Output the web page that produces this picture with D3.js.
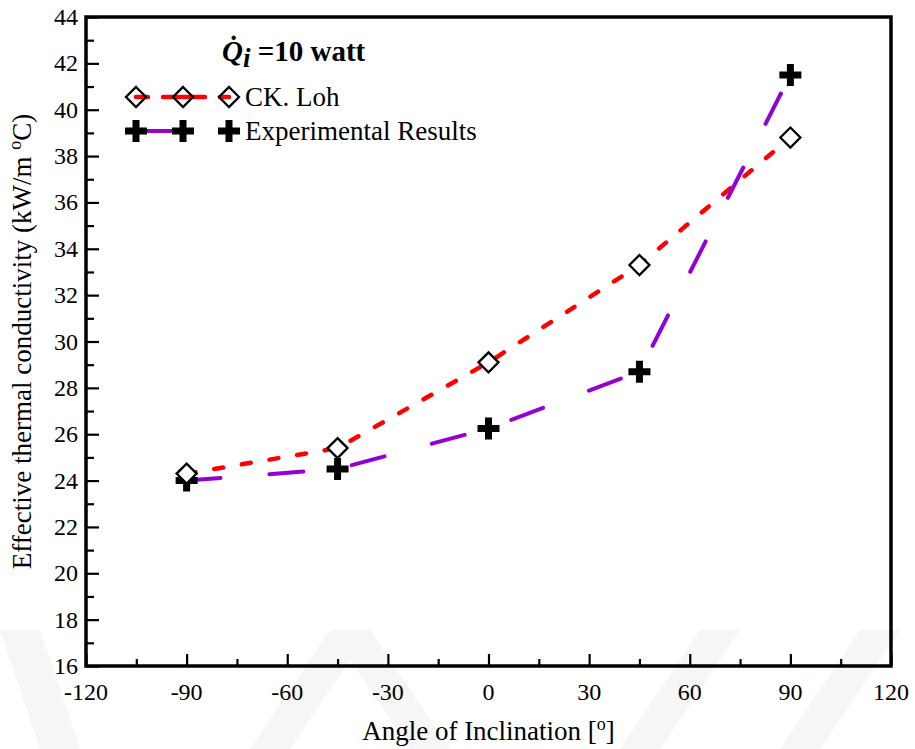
<!DOCTYPE html>
<html>
<head>
<meta charset="utf-8">
<script src="https://cdn.jsdelivr.net/npm/d3@7"></script>
<style>
  body { margin: 0; background: #fff; }
</style>
</head>
<body>
<div id="chart"></div>
<script>
var angles = [-90, -45, 0, 45, 90];
var lohValues = [24.3, 25.4, 29.1, 33.3, 38.8];
var expValues = [24.0, 24.5, 26.25, 28.7, 41.5];
var xTicks = [-120, -90, -60, -30, 0, 30, 60, 90, 120];
var yTicks = [16, 18, 20, 22, 24, 26, 28, 30, 32, 34, 36, 38, 40, 42, 44];
var seriesNames = ["CK. Loh", "Experimental Results"];

var serif = "'Liberation Serif', 'Times New Roman', serif";
var margin = { top: 17, right: 24, bottom: 83, left: 86 },
    width = 915,
    height = 749;
var innerWidth = width - margin.left - margin.right,
    innerHeight = height - margin.top - margin.bottom;

var svg = d3.select("#chart").append("svg")
    .attr("width", width)
    .attr("height", height)
    .attr("font-family", serif);

// faint watermark bands
var wm = svg.append("g").attr("fill", "#f6f6f6");
[[0, 630, 40, 749], [250, 749, 330, 630], [330, 630, 410, 749], [620, 749, 700, 630], [780, 749, 860, 630]]
  .forEach(function (b) {
    wm.append("polygon")
      .attr("points", [[b[0], b[1]], [b[0] + 40, b[1]], [b[2] + 40, b[3]], [b[2], b[3]]].join(" "));
  });

var g = svg.append("g")
    .attr("transform", "translate(" + margin.left + "," + margin.top + ")");

var x = d3.scaleLinear().domain([-120, 120]).range([0, innerWidth]);
var y = d3.scaleLinear().domain([16, 44]).range([innerHeight, 0]);

function ticks(sel) {
  sel.select(".domain").remove();
  sel.selectAll("text").remove();
  sel.selectAll("line").attr("stroke-width", 2.2);
}

// minor ticks
g.append("g")
    .attr("transform", "translate(0," + innerHeight + ")")
    .call(d3.axisTop(x).tickValues(d3.range(-105, 120, 30)).tickSize(7))
    .call(ticks);
g.append("g")
    .call(d3.axisRight(y).tickValues(d3.range(17, 44, 2)).tickSize(8))
    .call(ticks);

// major ticks
g.append("g")
    .attr("transform", "translate(0," + innerHeight + ")")
    .call(d3.axisTop(x).tickValues(xTicks).tickSize(12))
    .call(ticks);
g.append("g")
    .call(d3.axisRight(y).tickValues(yTicks).tickSize(13))
    .call(ticks);

// tick labels
g.selectAll(".xl").data(xTicks).enter().append("text")
    .attr("x", d => x(d))
    .attr("y", innerHeight + 34)
    .attr("text-anchor", "middle")
    .attr("font-size", 24)
    .text(d => d);
g.selectAll(".yl").data(yTicks).enter().append("text")
    .attr("x", -8)
    .attr("y", d => y(d) + 8)
    .attr("text-anchor", "end")
    .attr("font-size", 24)
    .text(d => d);

// frame
g.append("rect")
    .attr("width", innerWidth)
    .attr("height", innerHeight)
    .attr("fill", "none")
    .attr("stroke", "#000")
    .attr("stroke-width", 3.5);

// axis titles
g.append("text")
    .attr("x", innerWidth / 2)
    .attr("y", innerHeight + 74)
    .attr("text-anchor", "middle")
    .attr("font-size", 27)
    .html("Angle of Inclination [<tspan baseline-shift='super' font-size='18'>o</tspan>]");
g.append("text")
    .attr("transform", "translate(" + (-55) + "," + (innerHeight / 2) + ") rotate(-90)")
    .attr("text-anchor", "middle")
    .attr("font-size", 27)
    .html("Effective thermal conductivity (kW/m <tspan baseline-shift='super' font-size='18'>o</tspan>C)");

var line = d3.line()
    .x(d => x(d[0]))
    .y(d => y(d[1]));

var lohPts = angles.map((a, i) => [a, lohValues[i]]);
var expPts = angles.map((a, i) => [a, expValues[i]]);

g.append("path")
    .attr("d", line(lohPts))
    .attr("fill", "none")
    .attr("stroke", "#ff0000")
    .attr("stroke-width", 4.5)
    .attr("stroke-linecap", "round")
    .attr("stroke-dasharray", "9,19");

g.append("path")
    .attr("d", line(expPts))
    .attr("fill", "none")
    .attr("stroke", "#9400d3")
    .attr("stroke-width", 4)
    .attr("stroke-linecap", "round")
    .attr("stroke-dasharray", "34,49");

var diamond = "M0,-10L10,0L0,10L-10,0Z";
var cross = "M-3.5,-11H3.5V-3.5H11V3.5H3.5V11H-3.5V3.5H-11V-3.5H-3.5Z";

g.selectAll(".cross").data(expPts).enter().append("path")
    .attr("transform", d => "translate(" + x(d[0]) + "," + y(d[1]) + ")")
    .attr("d", cross)
    .attr("fill", "#000");

g.selectAll(".dia").data(lohPts).enter().append("path")
    .attr("transform", d => "translate(" + x(d[0]) + "," + y(d[1]) + ")")
    .attr("d", diamond)
    .attr("fill", "#fff")
    .attr("stroke", "#000")
    .attr("stroke-width", 2.3);

// legend
var lg = svg.append("g");
var title = lg.append("text")
    .attr("x", 222)
    .attr("y", 61)
    .attr("font-size", 29)
    .attr("font-weight", "bold");
title.append("tspan").attr("font-style", "italic").text("Q\u0307");
title.append("tspan").attr("font-style", "italic").attr("font-size", 27).attr("dy", 6).text("i");
title.append("tspan").attr("dy", -6).text(" =10 watt");

var lx = [136, 183, 229];
lg.append("line")
    .attr("x1", lx[0]).attr("x2", lx[2])
    .attr("y1", 97).attr("y2", 97)
    .attr("stroke", "#ff0000").attr("stroke-width", 4.5)
    .attr("stroke-linecap", "round")
    .attr("stroke-dasharray", "12,15,42,15,9");
lx.forEach(function (p) {
  lg.append("path").attr("transform", "translate(" + p + ",97)")
    .attr("d", diamond).attr("fill", "none")
    .attr("stroke", "#000").attr("stroke-width", 2.3);
});
lg.append("line")
    .attr("x1", lx[0]).attr("x2", lx[1])
    .attr("y1", 131).attr("y2", 131)
    .attr("stroke", "#9400d3").attr("stroke-width", 4);
lx.forEach(function (p) {
  lg.append("path").attr("transform", "translate(" + p + ",131)")
    .attr("d", cross).attr("fill", "#000");
});
lg.selectAll(".lt").data(seriesNames).enter().append("text")
    .attr("x", 245)
    .attr("y", (d, i) => 106 + i * 34)
    .attr("font-size", 27)
    .text(d => d);
</script>
</body>
</html>
